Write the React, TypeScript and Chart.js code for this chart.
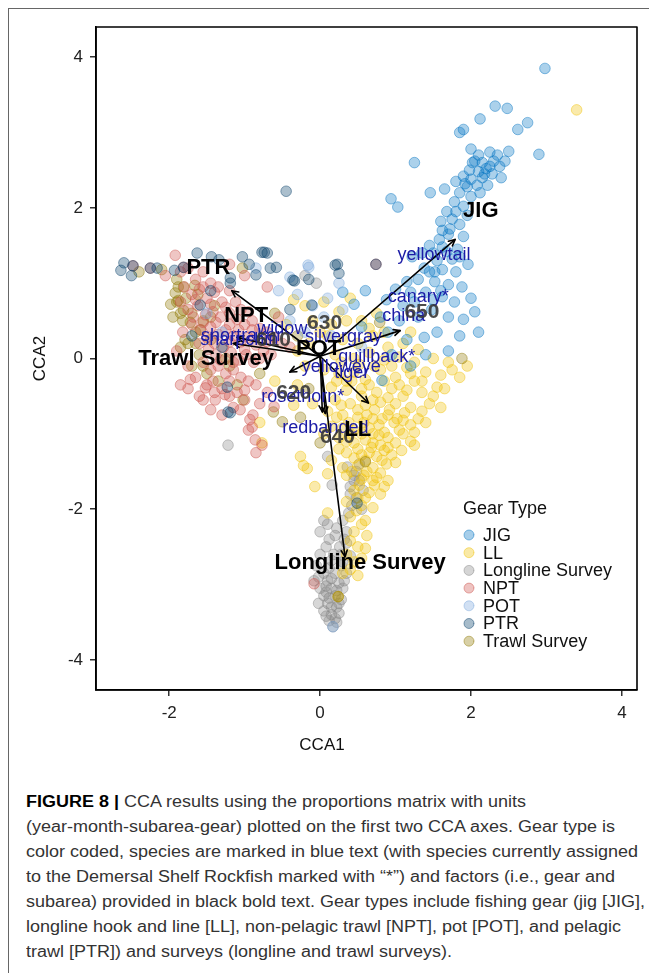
import React, { useEffect, useMemo, useRef } from 'react';
import { Chart, registerables } from 'chart.js';

Chart.register(...registerables);

// ---------- data ----------
const GEAR_TYPES = ['JIG', 'LL', 'Longline Survey', 'NPT', 'POT', 'PTR', 'Trawl Survey'];
const GEAR_RGB = ['0,115,194', '239,192,0', '134,134,134', '205,83,76', '122,166,220', '0,60,103', '143,119,0'];

const jigPoints = [
  [2.98, 3.85], [2.32, 3.35], [2.48, 3.32], [2.12, 3.18], [2.75, 3.13], [2.62, 3.04], [1.85, 3.0], [1.9, 3.04],
  [2.0, 2.78], [2.25, 2.74], [2.5, 2.75], [2.9, 2.71], [1.25, 2.6], [2.05, 2.62], [2.15, 2.6], [2.3, 2.62],
  [2.38, 2.55], [2.2, 2.52], [2.1, 2.48], [1.98, 2.5], [2.28, 2.45], [2.4, 2.4], [2.15, 2.4], [2.0, 2.38],
  [1.9, 2.42], [1.8, 2.35], [2.08, 2.3], [2.22, 2.3], [1.95, 2.28], [1.85, 2.2], [2.0, 2.15], [1.46, 2.2],
  [1.65, 2.25], [0.94, 2.12], [1.03, 2.01], [1.78, 2.08], [1.9, 2.02], [1.68, 1.95], [1.75, 1.85], [1.6, 1.82],
  [1.85, 1.78], [1.9, 1.62], [1.7, 1.65], [1.58, 1.58], [1.45, 1.5], [1.82, 1.45], [1.68, 1.42], [1.55, 1.3],
  [1.75, 1.32], [1.35, 1.4], [1.22, 1.35], [1.62, 1.18], [1.45, 1.15], [1.8, 1.15], [1.96, 1.25], [1.3, 1.05],
  [1.52, 1.02], [1.7, 0.98], [1.88, 0.95], [1.15, 1.02], [1.0, 0.92], [1.4, 0.88], [1.62, 0.82], [1.78, 0.75],
  [2.0, 0.8], [1.25, 0.75], [1.1, 0.7], [0.88, 0.78], [1.48, 0.65], [1.7, 0.55], [1.9, 0.52], [2.05, 0.62],
  [1.3, 0.55], [1.05, 0.5], [0.8, 0.55], [0.6, 0.9], [0.45, 0.72], [0.3, 0.88], [1.55, 0.35], [1.85, 0.3],
  [1.38, 0.28], [1.15, 0.25], [0.9, 0.35], [0.55, 0.42], [2.1, 0.35], [1.7, 0.1], [1.4, 0.05], [0.82, -0.29],
  [1.2, -0.1], [0.95, 0.05],
  [2.1, 2.7], [2.25, 2.55], [2.45, 2.62], [2.35, 2.7], [2.18, 2.45], [2.02, 2.6], [1.92, 2.32], [2.12, 2.2],
  [1.95, 1.9], [1.8, 1.95], [1.72, 1.72], [1.62, 1.7], [1.5, 1.4], [1.62, 1.48], [1.85, 1.35], [1.52, 1.15],
  [1.38, 1.2], [1.6, 0.9], [1.5, 0.78], [1.2, 0.88],
];

const llPoints = [
  [3.4, 3.3],
  [-0.35, 0.78], [-0.2, 0.7], [0.05, 0.75], [0.25, 0.62], [0.4, 0.8], [-0.1, 0.5], [0.15, 0.45], [0.55, 0.5],
  [0.75, 0.6], [-0.45, 0.45],
  [0.1, 0.3], [0.3, 0.25], [0.5, 0.2], [0.7, 0.3], [0.9, 0.15], [1.1, 0.2], [1.3, 0.12], [0.2, 0.05],
  [0.45, 0.0], [0.65, 0.08], [0.85, -0.02], [1.05, 0.02], [1.25, -0.05], [1.5, 0.0], [1.7, -0.05], [-0.15, 0.2],
  [-0.3, 0.1],
  [0.05, -0.15], [0.25, -0.2], [0.45, -0.18], [0.6, -0.28], [0.8, -0.15], [1.0, -0.25], [1.2, -0.2], [1.4, -0.18],
  [1.6, -0.22], [1.85, -0.25], [0.15, -0.38], [0.35, -0.42], [0.55, -0.4], [0.75, -0.45], [0.95, -0.4], [1.15, -0.42],
  [1.35, -0.45], [1.55, -0.38], [-0.3, -0.35], [-0.6, -0.3],
  [0.2, -0.55], [0.4, -0.6], [0.6, -0.62], [0.8, -0.58], [1.0, -0.6], [1.2, -0.65], [1.45, -0.6], [0.3, -0.75],
  [0.5, -0.78], [0.7, -0.8], [0.9, -0.75], [1.1, -0.82], [1.3, -0.8], [0.15, -0.9], [0.45, -0.95], [0.65, -0.92],
  [0.85, -0.98], [1.05, -0.95], [1.25, -0.98], [-0.35, -0.62], [-0.8, -0.85],
  [0.25, -1.05], [0.45, -1.12], [0.6, -1.08], [0.8, -1.15], [1.0, -1.12], [1.2, -1.1], [0.35, -1.25], [0.55, -1.28],
  [0.75, -1.3], [0.95, -1.28], [0.15, -1.35], [0.5, -1.42], [0.7, -1.45], [0.88, -1.4], [-0.77, -1.12], [-0.26, -1.3],
  [-0.22, -1.42], [-0.17, -1.46], [0.1, -1.53],
  [0.35, -1.55], [0.55, -1.6], [0.75, -1.58], [0.9, -1.62], [0.45, -1.75], [0.65, -1.78], [0.8, -1.8], [0.35, -1.9],
  [0.55, -1.95], [0.7, -1.98], [-0.07, -1.7],
  [0.1, -2.05], [0.4, -2.1], [0.6, -2.15], [0.45, -2.3], [0.62, -2.35], [0.5, -2.5], [0.35, -2.6], [0.55, -2.65],
  [0.4, -2.8], [0.3, -2.85], [0.5, -2.88], [0.24, -3.16],
  [0.35, -0.3], [0.55, -0.5], [0.7, -0.55], [0.9, -0.52], [1.1, -0.5], [0.38, -0.85], [0.58, -0.85], [0.78, -0.88],
  [0.98, -0.85], [0.4, -1.0], [0.7, -1.0], [0.9, -1.05], [0.5, -1.2], [0.68, -1.18], [0.85, -1.22], [0.6, -1.35],
  [0.42, -1.5], [0.62, -1.5], [0.8, -1.52], [0.52, -1.68], [0.72, -1.68], [0.6, -1.85], [0.48, -2.02], [0.55, -2.2],
  [0.28, -0.05], [0.52, -0.08], [0.72, -0.1], [0.95, -0.1], [1.15, -0.12], [1.35, -0.3], [1.5, -0.5], [1.65, -0.4],
  [1.75, -0.15], [1.95, -0.1], [0.22, -0.3], [0.42, -0.3], [0.65, -0.35], [0.85, -0.3], [1.05, -0.35], [1.25, -0.3],
  [0.28, -0.62], [0.5, -0.68], [0.72, -0.68], [0.92, -0.68], [1.12, -0.72], [1.35, -0.7], [0.22, -0.78], [0.62, -0.75],
  [0.82, -0.8], [1.02, -0.8], [1.2, -0.88], [0.3, -0.92], [0.55, -1.0], [0.78, -1.02], [1.1, -1.0], [0.35, -1.1],
  [0.7, -1.12], [0.9, -1.18], [1.08, -1.22], [0.25, -1.2], [0.45, -1.32], [0.65, -1.25], [0.82, -1.35], [1.0, -1.38],
  [0.3, -1.45], [0.58, -1.55], [0.7, -1.62], [0.85, -1.7], [0.5, -1.85], [0.4, -2.42], [0.6, -2.52], [0.45, -2.7],
  [0.65, 0.4], [0.85, 0.35], [0.35, 0.5], [1.2, 0.35], [0.0, 0.35], [-0.2, -0.1], [0.1, -0.7], [0.05, -1.0],
  [-0.1, -0.6], [1.6, -0.65], [1.4, -0.85], [1.25, -1.15],
];

const longlineSurveyPoints = [
  [-1.22, -1.15], [-0.2, 1.1], [-0.05, 1.0], [0.1, -1.3], [0.36, -1.44], [0.45, -1.55], [0.52, -1.62], [0.4, -1.7],
  [0.57, -1.75], [0.48, -1.85], [0.16, -1.68], [0.42, -1.95], [0.38, -2.05], [0.3, -2.15], [0.05, -2.15], [0.0, -2.3],
  [0.12, -2.4], [0.2, -2.35], [0.26, -2.5], [0.08, -2.5], [0.35, -2.45], [0.4, -2.62], [0.3, -2.7], [0.15, -2.68],
  [-0.05, -2.75], [0.05, -2.85], [0.2, -2.85], [0.35, -2.85], [0.1, -2.95], [0.25, -2.98], [-0.08, -2.95], [0.0, -3.05],
  [0.15, -3.05], [0.3, -3.05], [0.05, -3.15], [0.2, -3.15], [0.28, -3.2], [0.1, -3.25], [0.22, -3.3], [0.05, -3.35],
  [0.15, -3.4], [0.25, -3.38], [0.12, -3.48], [0.2, -3.45], [0.17, -3.56], [-0.02, -3.25], [0.08, -3.1], [0.32, -2.4],
  [0.48, -1.5], [0.55, -2.0],
  [0.1, -2.2], [0.22, -2.25], [0.18, -2.6], [0.28, -2.6], [0.0, -2.6], [0.12, -2.78], [0.28, -2.75], [-0.02, -2.9],
  [0.15, -2.92], [0.32, -2.95], [0.08, -3.02], [0.22, -3.08], [0.12, -3.18], [0.25, -3.25], [0.15, -3.3], [0.08, -3.42],
  [0.22, -3.5], [0.45, -1.62], [0.52, -1.4], [0.4, -1.8], [0.35, -2.3],
];

const nptPoints = [
  [-1.92, 1.37], [-1.85, 1.15], [-1.75, 1.2], [-1.65, 1.05], [-1.55, 1.15], [-1.45, 1.0], [-1.8, 0.95], [-1.7, 0.85],
  [-1.6, 0.92], [-1.5, 0.8], [-1.4, 0.88], [-1.3, 0.75], [-1.85, 0.75], [-1.75, 0.65], [-1.62, 0.7], [-1.52, 0.58],
  [-1.42, 0.62], [-1.32, 0.55], [-1.2, 0.6], [-1.1, 0.52], [-1.0, 0.45], [-0.9, 0.5], [-0.8, 0.4], [-0.7, 0.35],
  [-0.6, 0.28], [-0.5, 0.2], [-0.4, 0.15], [-1.7, 0.45], [-1.58, 0.38], [-1.45, 0.42], [-1.35, 0.32], [-1.25, 0.38],
  [-1.15, 0.3], [-1.05, 0.22], [-0.95, 0.28], [-0.85, 0.18], [-0.75, 0.1], [-0.65, 0.05], [-1.6, 0.2], [-1.48, 0.12],
  [-1.38, 0.05], [-1.28, 0.15], [-1.18, 0.08], [-1.08, -0.02], [-0.98, 0.05], [-0.88, -0.05], [-1.55, -0.05], [-1.45, -0.15],
  [-1.35, -0.1], [-1.25, -0.2], [-1.15, -0.15], [-1.05, -0.25], [-0.95, -0.3], [-1.65, -0.25], [-1.5, -0.35], [-1.4, -0.45],
  [-1.3, -0.4], [-1.2, -0.5], [-1.1, -0.45], [-1.0, -0.55], [-1.6, -0.5], [-0.89, -0.75], [-0.95, -0.95], [-0.9, -0.91],
  [-0.85, -1.25], [-0.61, -0.64], [-0.08, -2.99], [-1.2, 1.25], [-1.0, 1.1], [-0.7, 0.95], [-2.25, 1.2], [-2.48, 1.23],
  [-1.81, 1.21], [-2.05, 1.1], [-1.3, -0.75], [-0.7, -0.45], [0.74, 1.25], [-1.75, -0.1], [-1.05, 0.65], [-0.55, 0.55],
  [-1.85, -0.35], [-1.72, -0.28], [-1.52, -0.39], [-1.39, -0.55], [-1.26, -0.48], [-1.06, -0.68], [-0.93, -0.81],
  [-0.86, -1.08], [-0.77, -1.15],
  [-1.55, 0.95], [-1.35, 0.95], [-1.2, 0.9], [-1.65, 0.78], [-1.45, 0.72], [-1.25, 0.68], [-1.12, 0.75], [-0.95, 0.62],
  [-1.55, 0.48], [-1.38, 0.48], [-1.2, 0.45], [-1.08, 0.38], [-0.9, 0.38], [-0.7, 0.22], [-1.5, 0.28], [-1.4, 0.2],
  [-1.2, 0.22], [-1.0, 0.12], [-0.8, 0.0], [-1.32, -0.02], [-1.15, -0.05], [-1.42, -0.3], [-1.2, -0.3], [-1.0, -0.42],
  [-0.85, -0.35], [-1.55, -0.55], [-1.45, -0.68], [-1.15, -0.65], [-0.8, -0.6], [-1.68, 0.55], [-1.82, 0.35], [-1.9, 0.1],
  [-1.75, -0.4],
];

const potPoints = [
  [-0.15, 1.21], [-0.85, 1.2], [-0.16, 1.24], [-0.3, 0.85], [-0.1, 0.7], [0.1, 0.8], [-0.4, 0.5], [0.05, 0.55],
  [0.3, 0.65], [-0.2, 0.35], [0.15, 0.3], [-1.3, 0.35], [-1.5, 0.6], [0.25, 1.0], [-0.55, 0.9], [0.55, 0.15],
  [-0.4, 1.08], [0.17, -3.56],
];

const ptrPoints = [
  [-2.64, 1.17], [-2.6, 1.27], [-2.48, 1.23], [-2.25, 1.2], [-2.16, 1.2], [-1.93, 1.17], [-1.81, 1.21], [-1.63, 1.4],
  [-1.44, 1.35], [-1.34, 1.31], [-1.19, 1.07], [-1.03, 1.35], [-0.94, 1.25], [-0.85, 1.11], [-0.74, 1.41], [-0.66, 1.2],
  [-0.58, 1.21], [-0.34, 1.03], [-0.15, 1.05], [0.23, 1.25], [0.25, 1.13], [-0.45, 2.22], [0.74, 1.25], [-0.77, 1.41],
  [-0.7, 1.4], [-0.36, 1.04], [-0.11, 0.71], [0.2, 1.24], [-1.19, 1.0], [-1.59, 0.71], [-1.23, -0.38], [-1.19, -0.72],
  [-1.22, -0.71], [0.49, -1.92], [-2.5, 1.1], [-1.7, 0.3], [-1.3, 0.15], [-0.4, 0.65], [-1.45, 0.9],
];

const trawlSurveyPoints = [
  [-1.88, 0.95], [-1.81, 0.95], [-1.03, 1.2], [-1.9, 0.75], [-1.78, 0.8], [-1.7, 0.6], [-1.95, 0.55], [-1.82, 0.5],
  [-1.65, 0.35], [-1.55, 0.5], [-1.4, 0.7], [-1.75, 0.2], [-1.6, 0.05], [-1.5, -0.2], [-1.35, -0.3], [-1.7, -0.1],
  [-1.25, 0.0], [-1.1, -0.35], [-1.02, -0.55], [-0.62, -0.71], [-0.5, -0.84], [-0.26, -0.78], [0.0, -1.12], [0.6, -1.37],
  [1.88, 0.0], [0.79, 0.48], [-2.4, 1.15], [-2.1, 1.18], [-0.6, 0.6], [-0.3, 0.3], [0.24, -3.16], [-0.15, -0.4],
  [-1.9, 1.05], [-1.45, 0.25], [-1.2, -0.1], [-0.8, -0.2], [-1.88, 0.77], [-1.81, 0.64], [-1.72, 0.48], [-1.59, 0.38],
  [-1.79, 0.25], [-1.92, 0.87], [-1.66, 0.97],
  [-1.98, 0.72], [-1.85, 0.6], [-1.65, 0.2], [-1.55, -0.1], [-1.85, 0.15], [-1.62, 0.85], [-1.45, 0.55],
];

const GEAR_POINTS = [jigPoints, llPoints, longlineSurveyPoints, nptPoints, potPoints, ptrPoints, trawlSurveyPoints];
// drawing order (lower = on top)
const GEAR_ORDER = [3, 6, 7, 4, 2, 1, 5];

const X_TICKS = [-2, 0, 2, 4];
const Y_TICKS = [-4, -2, 0, 2, 4];
const X_RANGE = [-2.97, 4.2];
const Y_RANGE = [-4.4, 4.4];

const ARROW_ORIGIN = [0, 0.03];
const arrowEnds = [
  [1.79, 1.58], [1.06, 0.37], [-1.17, 0.9], [-1.1, 0.28], [-1.15, 0.2], [-0.4, -0.18],
  [0.03, -0.71], [0.07, -0.73], [0.64, -0.59], [0.33, -2.63],
];

const speciesNames = ['yellowtail', 'canary*', 'china', 'widow', 'silvergray', 'shortraker', 'sharpchin',
  'quillback*', 'yelloweye', 'tiger', 'rosethorn*', 'redbanded'];
const speciesPos = [
  [1.51, 1.37], [1.3, 0.82], [1.11, 0.56], [-0.5, 0.39], [0.31, 0.29], [-1.04, 0.3], [-1.07, 0.24],
  [0.75, 0.02], [0.28, -0.11], [0.42, -0.19], [-0.23, -0.51], [0.07, -0.92],
];

const subareaNames = ['610', '620', '630', '640', '650'];
const subareaPos = [[-0.62, 0.24], [-0.35, -0.46], [0.06, 0.47], [0.23, -1.04], [1.35, 0.62]];

const factorNames = ['JIG', 'PTR', 'NPT', 'Trawl Survey', 'POT', 'LL', 'Longline Survey'];
const factorPos = [[2.13, 1.96], [-1.48, 1.2], [-0.98, 0.56], [-1.51, 0.0], [-0.02, 0.13], [0.5, -0.95], [0.53, -2.71]];

const CAPTION_BOLD = 'FIGURE 8 |';
const CAPTION_LINES = [
  ' CCA results using the proportions matrix with units',
  '(year-month-subarea-gear) plotted on the first two CCA axes. Gear type is',
  'color coded, species are marked in blue text (with species currently assigned',
  'to the Demersal Shelf Rockfish marked with \u201c*\u201d) and factors (i.e., gear and',
  'subarea) provided in black bold text. Gear types include fishing gear (jig [JIG],',
  'longline hook and line [LL], non-pelagic trawl [NPT], pot [POT], and pelagic',
  'trawl [PTR]) and surveys (longline and trawl surveys).',
];

const FONT = '"Liberation Sans", Arial, Helvetica, sans-serif';
const CANVAS_W = 648;
const CANVAS_H = 770;

function drawArrow(ctx: CanvasRenderingContext2D, x0: number, y0: number, x1: number, y1: number) {
  ctx.beginPath();
  ctx.moveTo(x0, y0);
  ctx.lineTo(x1, y1);
  ctx.stroke();
  const a = Math.atan2(y1 - y0, x1 - x0);
  const L = 7;
  const ang = Math.PI / 7;
  ctx.beginPath();
  ctx.moveTo(x1 - L * Math.cos(a - ang), y1 - L * Math.sin(a - ang));
  ctx.lineTo(x1, y1);
  ctx.lineTo(x1 - L * Math.cos(a + ang), y1 - L * Math.sin(a + ang));
  ctx.stroke();
}

const overlayPlugin = {
  id: 'overlay',
  afterDatasetsDraw(chart: any) {
    const { ctx, chartArea: ca, scales } = chart;
    const xs = scales.x;
    const ys = scales.y;
    ctx.save();
    ctx.strokeStyle = '#000';
    ctx.lineWidth = 1.6;
    ctx.lineCap = 'round';
    ctx.lineJoin = 'round';
    const ox = xs.getPixelForValue(ARROW_ORIGIN[0]);
    const oy = ys.getPixelForValue(ARROW_ORIGIN[1]);
    arrowEnds.forEach(([ex, ey]) => {
      drawArrow(ctx, ox, oy, xs.getPixelForValue(ex), ys.getPixelForValue(ey));
    });
    ctx.textAlign = 'center';
    ctx.textBaseline = 'middle';
    ctx.font = `18px ${FONT}`;
    ctx.fillStyle = '#1b1ba6';
    speciesNames.forEach((n, i) => {
      ctx.fillText(n, xs.getPixelForValue(speciesPos[i][0]), ys.getPixelForValue(speciesPos[i][1]));
    });
    ctx.font = `bold 21px ${FONT}`;
    ctx.fillStyle = 'rgba(55,55,55,0.9)';
    subareaNames.forEach((n, i) => {
      ctx.fillText(n, xs.getPixelForValue(subareaPos[i][0]), ys.getPixelForValue(subareaPos[i][1]));
    });
    ctx.font = `bold 22px ${FONT}`;
    ctx.fillStyle = '#000';
    factorNames.forEach((n, i) => {
      ctx.fillText(n, xs.getPixelForValue(factorPos[i][0]), ys.getPixelForValue(factorPos[i][1]));
    });
    ctx.strokeStyle = '#000';
    ctx.lineWidth = 1.6;
    ctx.strokeRect(ca.left, ca.top, ca.right - ca.left, ca.bottom - ca.top);

    // legend
    const lx = 454;
    ctx.textAlign = 'left';
    ctx.font = `18px ${FONT}`;
    ctx.fillStyle = '#111';
    ctx.fillText('Gear Type', lx, 500);
    GEAR_TYPES.forEach((g, i) => {
      const y = 526 + i * 17.7;
      ctx.beginPath();
      ctx.arc(lx + 6, y, 5, 0, Math.PI * 2);
      ctx.fillStyle = `rgba(${GEAR_RGB[i]},0.35)`;
      ctx.fill();
      ctx.strokeStyle = `rgba(${GEAR_RGB[i]},0.45)`;
      ctx.lineWidth = 1;
      ctx.stroke();
      ctx.fillStyle = '#111';
      ctx.fillText(g, lx + 20, y + 1);
    });

    // axis titles
    ctx.font = `17px ${FONT}`;
    ctx.fillStyle = '#111';
    ctx.textAlign = 'center';
    ctx.fillText('CCA1', 313, 736);
    ctx.save();
    ctx.translate(31, (ca.top + ca.bottom) / 2);
    ctx.rotate(-Math.PI / 2);
    ctx.fillText('CCA2', 0, 0);
    ctx.restore();
    ctx.restore();
  },
};

function ScatterChart() {
  const ref = useRef<HTMLCanvasElement | null>(null);
  useEffect(() => {
    if (!ref.current) return;
    const datasets = GEAR_TYPES.map((g, i) => ({
      label: g,
      data: GEAR_POINTS[i].map(([x, y]) => ({ x, y })),
      backgroundColor: `rgba(${GEAR_RGB[i]},0.33)`,
      borderColor: `rgba(${GEAR_RGB[i]},0.45)`,
      borderWidth: 1,
      pointRadius: 5.3,
      pointHoverRadius: 5.3,
      order: GEAR_ORDER[i],
    }));
    const tickFont = { family: FONT, size: 17 };
    const chart = new Chart(ref.current, {
      type: 'scatter',
      data: { datasets },
      options: {
        responsive: false,
        maintainAspectRatio: false,
        animation: false,
        events: [],
        layout: { padding: { top: 18, right: 20, left: 0, bottom: 0 } },
        plugins: { legend: { display: false }, tooltip: { enabled: false } },
        scales: {
          x: {
            type: 'linear',
            min: X_RANGE[0],
            max: X_RANGE[1],
            afterBuildTicks: (s: any) => { s.ticks = X_TICKS.map((v) => ({ value: v })); },
            afterFit: (s: any) => { s.height = 89; },
            grid: { display: true, drawOnChartArea: false, drawTicks: true, tickLength: 6, color: '#333', lineWidth: 1.5 },
            border: { display: true, color: '#000', width: 1.6 },
            ticks: { font: tickFont, color: '#222', padding: 7, maxRotation: 0, callback: (v: any) => String(v) },
          },
          y: {
            type: 'linear',
            min: Y_RANGE[0],
            max: Y_RANGE[1],
            afterBuildTicks: (s: any) => { s.ticks = Y_TICKS.map((v) => ({ value: v })); },
            afterFit: (s: any) => { s.width = 87; },
            grid: { display: true, drawOnChartArea: false, drawTicks: true, tickLength: 6, color: '#333', lineWidth: 1.5 },
            border: { display: true, color: '#000', width: 1.6 },
            ticks: { font: tickFont, color: '#222', padding: 7, callback: (v: any) => String(v) },
          },
        },
      },
      plugins: [overlayPlugin],
    } as any);
    return () => chart.destroy();
  }, []);
  return (
    <canvas
      ref={ref}
      width={CANVAS_W}
      height={CANVAS_H}
      style={{ position: 'absolute', left: 0, top: 0, width: CANVAS_W, height: CANVAS_H }}
    />
  );
}

export default function App() {
  const scale = useMemo(() => {
    const c = document.createElement('canvas').getContext('2d');
    if (!c) return 1;
    c.font = `16px ${FONT}`;
    const w = c.measureText(CAPTION_LINES[2]).width;
    return w > 0 ? 612 / w : 1;
  }, []);
  return (
    <div
      style={{
        position: 'relative',
        width: 649,
        height: 965,
        borderLeft: '1px solid #666',
        borderTop: '1px solid #666',
        boxSizing: 'border-box',
        overflow: 'hidden',
        background: '#fff',
      }}
    >
      <ScatterChart />
      <div
        style={{
          position: 'absolute',
          left: 17,
          top: 779.5,
          fontFamily: FONT,
          fontSize: 16,
          lineHeight: '25px',
          color: '#333',
          whiteSpace: 'nowrap',
          transform: `scaleX(${scale})`,
          transformOrigin: 'left top',
        }}
      >
        {CAPTION_LINES.map((line, i) => (
          <div key={i}>
            {i === 0 ? <b style={{ color: '#000' }}>{CAPTION_BOLD}</b> : null}
            {line}
          </div>
        ))}
      </div>
    </div>
  );
}
